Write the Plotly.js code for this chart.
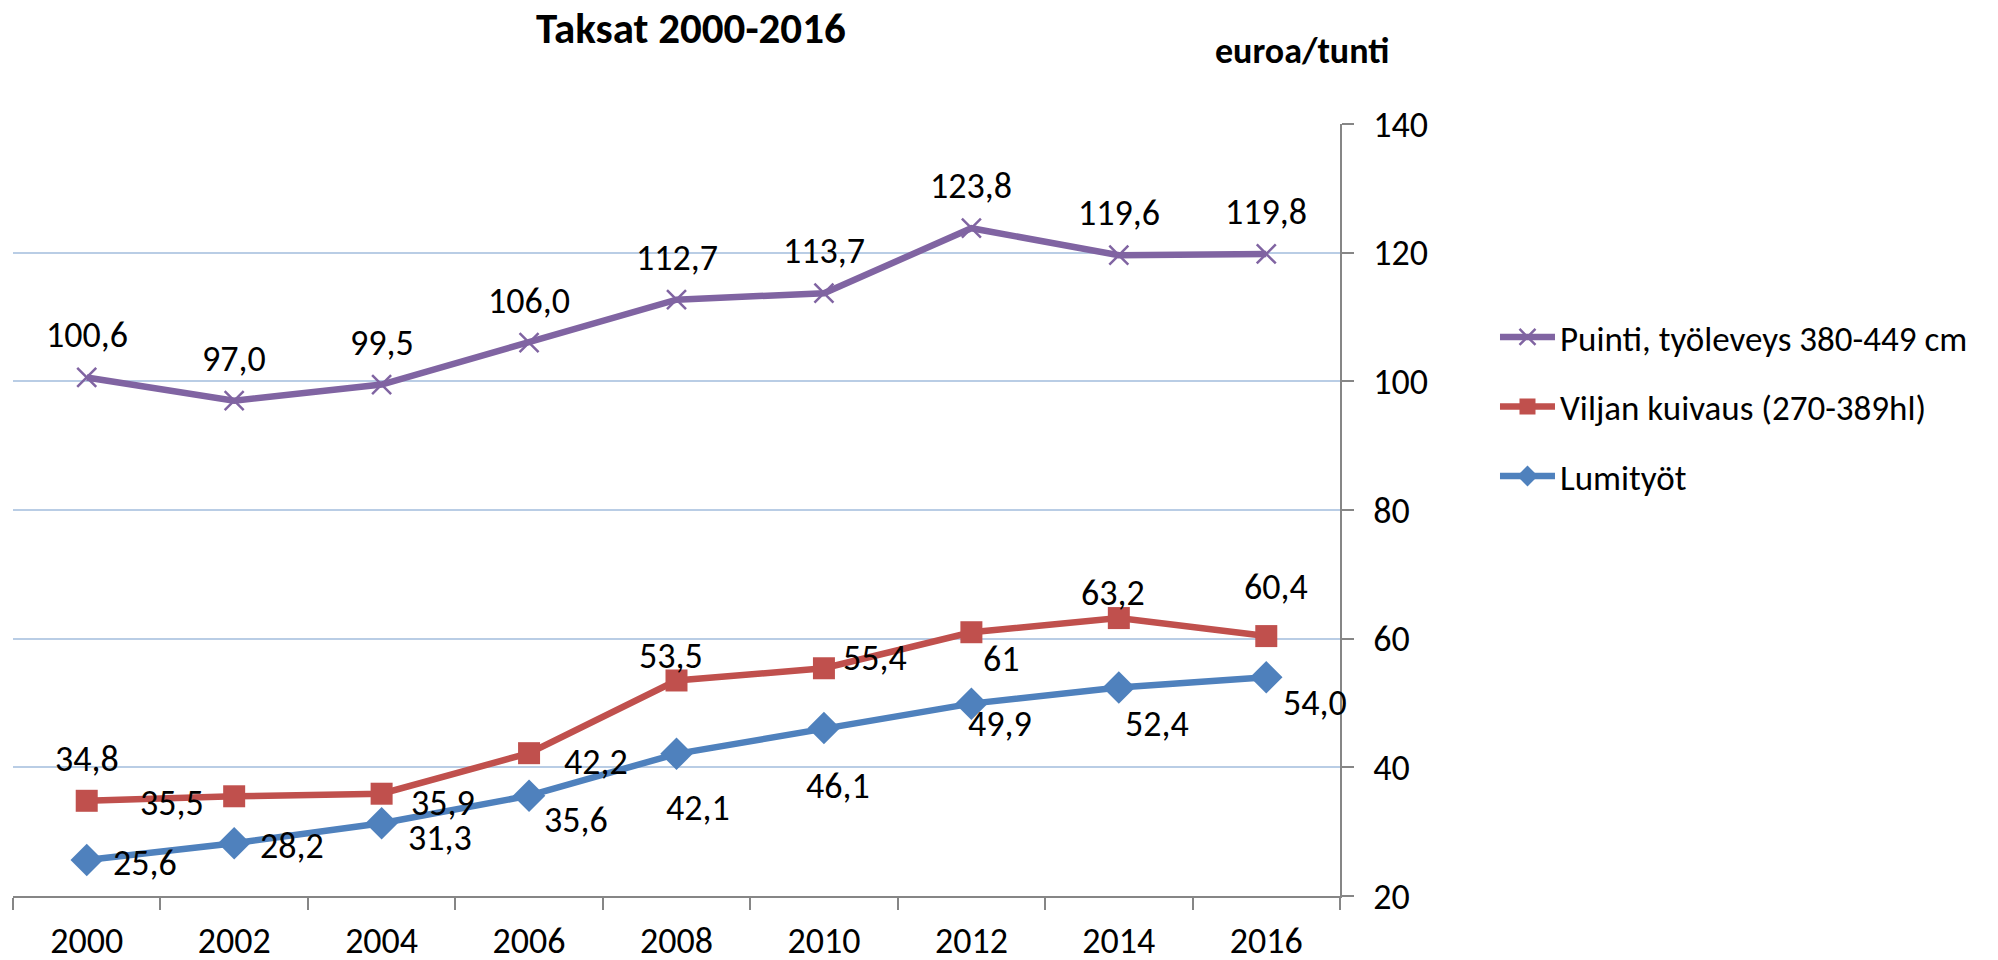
<!DOCTYPE html>
<html>
<head>
<meta charset="utf-8">
<script src="https://cdn.plot.ly/plotly-3.0.1.min.js"></script>
<style>html,body{margin:0;padding:0;background:#fff;}#chart{width:1998px;height:960px;}</style>
</head>
<body>
<div id="chart"></div>
<script>
const years = ['2000','2002','2004','2006','2008','2010','2012','2014','2016'];
const puinti = [100.6, 97.0, 99.5, 106.0, 112.7, 113.7, 123.8, 119.6, 119.8];
const viljan = [34.8, 35.5, 35.9, 42.2, 53.5, 55.4, 61, 63.2, 60.4];
const lumi = [25.6, 28.2, 31.3, 35.6, 42.1, 46.1, 49.9, 52.4, 54.0];
const puintiLabels = ['100,6','97,0','99,5','106,0','112,7','113,7','123,8','119,6','119,8'];
const viljanLabels = ['34,8','35,5','35,9','42,2','53,5','55,4','61','63,2','60,4'];
const lumiLabels = ['25,6','28,2','31,3','35,6','42,1','46,1','49,9','52,4','54,0'];
const seriesNames = ['Puinti, työleveys 380-449 cm','Viljan kuivaus (270-389hl)','Lumityöt'];
const yTicks = [20, 40, 60, 80, 100, 120, 140];

// label offsets in screen pixels [dx, dy(down)] — styling only
const puintiOff = years.map(() => [0, -42]);
const viljanOff = [[0,-42],[-62,7],[61,9],[67,9],[-6,-24],[51,-10],[30,27],[-6,-25],[10,-49]];
const lumiOff = [[58,3],[58,3],[58,15],[47,24],[21,54],[14,58],[29,20],[38,36],[49,26]];

const FONT = "Carlito, 'Liberation Sans Narrow', 'Open Sans', sans-serif";
const colors = {p:'#8064A2', v:'#C0504D', l:'#4F81BD'};

const traces = [
  {x: years, y: puinti, name: seriesNames[0], type:'scatter', mode:'lines+markers', legendgroup:'a',
   line:{color:colors.p, width:6.5}, marker:{symbol:'x-thin', size:19, line:{color:colors.p, width:2.5}, color:colors.p}},
  {x: years, y: viljan, name: seriesNames[1], type:'scatter', mode:'lines+markers', legendgroup:'b',
   line:{color:colors.v, width:6.5}, marker:{symbol:'square', size:22, color:colors.v}},
  {x: years, y: lumi, name: seriesNames[2], type:'scatter', mode:'lines+markers', legendgroup:'c',
   line:{color:colors.l, width:6.5}, marker:{symbol:'diamond', size:25, color:colors.l}}
];

const annotations = [];
function addLabels(vals, labels, offs){
  vals.forEach((v,i) => {
    annotations.push({x: i, y: v, xref:'x', yref:'y', text: labels[i], showarrow:false,
      xanchor:'center', yanchor:'middle',
      xshift: offs[i][0], yshift: -offs[i][1], font:{family:FONT, size:36, color:'#000'}});
  });
}
addLabels(puinti, puintiLabels, puintiOff);
addLabels(viljan, viljanLabels, viljanOff);
addLabels(lumi, lumiLabels, lumiOff);
annotations.push({xref:'paper', yref:'paper', x:0.971, y:1.0946, xanchor:'center', yanchor:'middle',
  text:'<b>euroa/tunti</b>', showarrow:false, font:{family:FONT, size:36, color:'#000'}});

const layout = {
  width:1998, height:960,
  margin:{l:13, r:658, t:124, b:64, pad:0},
  paper_bgcolor:'#fff', plot_bgcolor:'#fff',
  font:{family:FONT, size:36, color:'#000'},
  title:{text:'<b>Taksat 2000-2016</b>', font:{family:FONT, size:43, color:'#000'}, xref:'container', yref:'container', x:0.3458, xanchor:'center', y:0.971, yanchor:'middle'},
  xaxis:{type:'category', range:[-0.5, 8.5], showgrid:false, showline:true, linecolor:'#868686', linewidth:2,
    ticks:'outside', tickson:'boundaries', ticklen:12, tickwidth:2, tickcolor:'#868686', ticklabelstandoff:12,
    tickfont:{family:FONT, size:36, color:'#000'}, zeroline:false, fixedrange:true},
  yaxis:{side:'right', range:[20,140], tickvals:yTicks, showgrid:true, gridcolor:'#B9CDE5', gridwidth:2,
    showline:true, linecolor:'#868686', linewidth:2, ticks:'outside', ticklen:12, tickwidth:2, tickcolor:'#868686',
    ticklabelstandoff:12, tickfont:{family:FONT, size:36, color:'#000'}, zeroline:false},
  showlegend:true,
  legend:{x:1.1168, xanchor:'left', y:0.762, yanchor:'top', font:{family:FONT, size:35, color:'#000'},
    tracegroupgap:21, itemwidth:55, bgcolor:'rgba(0,0,0,0)', traceorder:'grouped'},
  annotations: annotations
};

Plotly.newPlot('chart', traces, layout, {staticPlot:true, displayModeBar:false});
</script>
</body>
</html>
